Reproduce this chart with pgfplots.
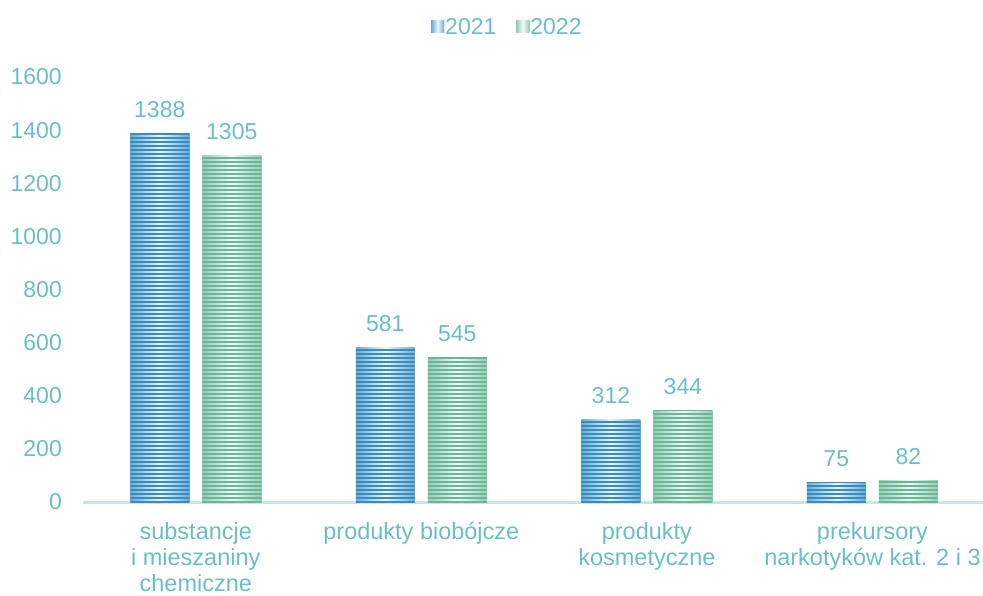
\documentclass[border=0pt]{standalone}
\usepackage{fontspec}
\setmainfont{Liberation Sans}
\usepackage{pgfplots}
\pgfplotsset{compat=1.18}
\usetikzlibrary{patterns}

\definecolor{txt}{RGB}{106,190,201}
\definecolor{axisln}{RGB}{200,230,233}
\definecolor{bdark}{RGB}{52,142,194}
\definecolor{bedge}{RGB}{110,170,208}
\definecolor{blight}{RGB}{238,247,251}
\definecolor{gdark}{RGB}{106,182,152}
\definecolor{gedge}{RGB}{150,204,182}
\definecolor{glight}{RGB}{240,249,245}

% wide horizontal stripe tile: 4pt period, 1.7pt stripe
\pgfdeclarepatternformonly{hstripes}{\pgfpoint{-1pt}{0pt}}{\pgfpoint{201pt}{4pt}}{\pgfpoint{200pt}{4pt}}{%
  \pgfpathrectangle{\pgfpoint{-1pt}{0pt}}{\pgfpoint{202pt}{1.7pt}}%
  \pgfusepath{fill}}

\tikzset{
  stripes/.style={pattern=hstripes, pattern color=#1},
}
\pgfplotsset{
  barbase/.style={ybar, bar width=59pt, draw=none},
  % shaded body of a bar (each bar is its own plot so the shading spans one bar)
  b21/.style={barbase, bar shift=-36pt, left color=bedge, right color=bedge, middle color=blight,
    nodes near coords, every node near coord/.append style={xshift=-36pt},
    legend image code/.code={%
      \path[left color=bedge, right color=bedge, middle color=blight] (0pt,-6pt) rectangle (13pt,6pt);
      \path[stripes=bdark] (0pt,-6pt) rectangle (13pt,6pt);}},
  b22/.style={barbase, bar shift=36pt, left color=gedge, right color=gedge, middle color=glight,
    nodes near coords, every node near coord/.append style={xshift=36pt},
    legend image code/.code={%
      \path[left color=gedge, right color=gedge, middle color=glight] (0pt,-6pt) rectangle (13pt,6pt);
      \path[stripes=gdark] (0pt,-6pt) rectangle (13pt,6pt);}},
  % striped overlay
  s21/.style={barbase, bar shift=-36pt, stripes=bdark, forget plot},
  s22/.style={barbase, bar shift=36pt, stripes=gdark, forget plot},
}

\begin{document}
\begin{tikzpicture}
\path[use as bounding box] (0,0) rectangle (983pt,595pt);
\begin{axis}[
  at={(83pt,93pt)}, anchor=south west,
  scale only axis, width=900pt, height=425pt,
  xmin=-0.5, xmax=3.49, ymin=0, ymax=1600,
  axis line style={draw=none},
  major tick length=0pt,
  ytick={0,200,...,1600},
  xtick={0,1,2,3},
  xticklabels={{substancje\\i mieszaniny\\chemiczne},{produkty biobójcze},{produkty\\kosmetyczne},{prekursory\\narkotyków kat. 2 i 3}},
  xticklabel style={align=center, anchor=north, inner sep=0pt, yshift=-20pt,
    font=\fontsize{23.5}{26}\selectfont, text=txt},
  yticklabel style={anchor=east, inner sep=0pt, xshift=-21pt,
    font=\fontsize{23}{26}\selectfont, text=txt},
  /pgf/number format/assume math mode=true,
  /pgf/number format/1000 sep={},
  every node near coord/.append style={anchor=base, inner sep=0pt, yshift=16pt,
    font=\fontsize{23}{26}\selectfont, text=txt},
  clip=false,
  legend columns=2,
  legend style={at={(0.471,1.118)}, anchor=center, draw=none, fill=none,
    font=\fontsize{23}{26}\selectfont, text=txt,
    nodes={inner sep=1pt},
    /tikz/every even column/.append style={column sep=19pt}},
]
% baseline of the value axis
\draw[axisln, line width=3pt] (axis cs:-0.5,0) -- (axis cs:3.49,0);

% 2021
\addplot[b21] coordinates {(0,1388)};
\addlegendentry{2021}
% 2022
\addplot[b22] coordinates {(0,1305)};
\addlegendentry{2022}

\addplot[b21, forget plot] coordinates {(1,581)};
\addplot[b21, forget plot] coordinates {(2,312)};
\addplot[b21, forget plot] coordinates {(3,75)};
\addplot[b22, forget plot] coordinates {(1,545)};
\addplot[b22, forget plot] coordinates {(2,344)};
\addplot[b22, forget plot] coordinates {(3,82)};

% stripes over every bar
\addplot[s21] coordinates {(0,1388)};
\addplot[s21] coordinates {(1,581)};
\addplot[s21] coordinates {(2,312)};
\addplot[s21] coordinates {(3,75)};
\addplot[s22] coordinates {(0,1305)};
\addplot[s22] coordinates {(1,545)};
\addplot[s22] coordinates {(2,344)};
\addplot[s22] coordinates {(3,82)};
\end{axis}
\end{tikzpicture}
\end{document}
